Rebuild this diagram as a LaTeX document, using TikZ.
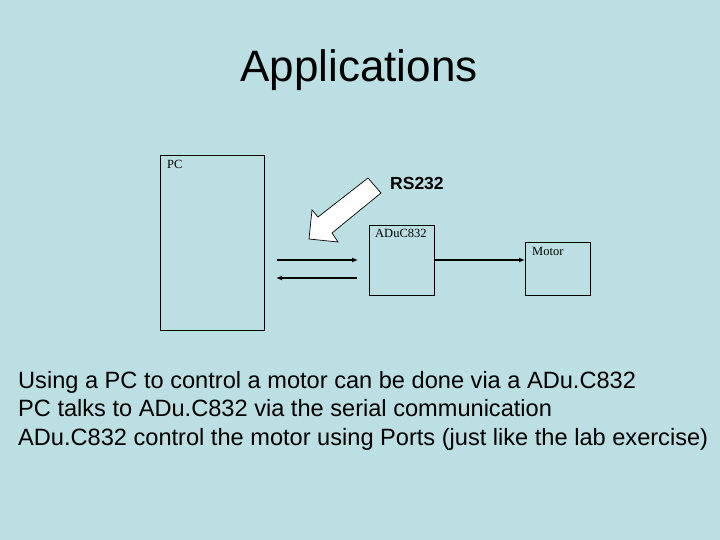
\documentclass[tikz,border=0pt]{standalone}
\usepackage{fontspec}
\setmainfont{Liberation Sans}
\newfontfamily\serifx{Liberation Serif}
\definecolor{bg}{HTML}{BBDFE3}
\begin{document}
\begin{tikzpicture}[x=1pt,y=-1pt,
  box/.style={draw,line width=0.6pt,inner sep=0pt},
  lbl/.style={anchor=north west,font=\serifx\fontsize{12.5}{13}\selectfont,inner sep=0pt},
  conn/.style={line width=1.3pt,-{Latex[length=6pt,width=5pt]}},
  bodyt/.style={anchor=base west,font=\fontsize{23.6}{26}\selectfont,inner sep=0pt}]
\usetikzlibrary{arrows.meta}
\fill[bg] (0,0) rectangle (720,540);
\useasboundingbox (0,0) rectangle (720,540);
\node[font=\fontsize{44}{48}\selectfont] (title) at (359,70) {Applications};
\draw[box] (160,155) rectangle (264,330);
\node[lbl] (pc) at (167,160) {PC};
\draw[box] (369,225) rectangle (434,295);
\node[lbl] (adu) at (375,229) {ADuC832};
\draw[box] (525,242) rectangle (590,295);
\node[lbl] (mot) at (532,247) {Motor};
\coordinate (a1) at (277,260); \coordinate (a2) at (358,260);
\coordinate (b1) at (357,278); \coordinate (b2) at (276,278);
\coordinate (c1) at (434,260); \coordinate (c2) at (525,260);
\draw[conn] (a1) -- (a2);
\draw[conn] (b1) -- (b2);
\draw[conn] (c1) -- (c2);
\draw[line width=0.7pt,fill=white] (368,178) -- (381,193) -- (332,233) -- (338,242) -- (309,239) -- (312,210) -- (318,217) -- cycle;
\node[anchor=west,font=\bfseries\fontsize{17.5}{19}\selectfont,inner sep=0pt] (rs) at (390,183) {RS232};
\node[bodyt] (t1) at (18,388) {Using a PC to control a motor can be done via a ADu.C832};
\node[bodyt] (t2) at (18,416) {PC talks to ADu.C832 via the serial communication};
\node[bodyt] (t3) at (18,445) {ADu.C832 control the motor using Ports (just like the lab exercise)};
\end{tikzpicture}
\end{document}
